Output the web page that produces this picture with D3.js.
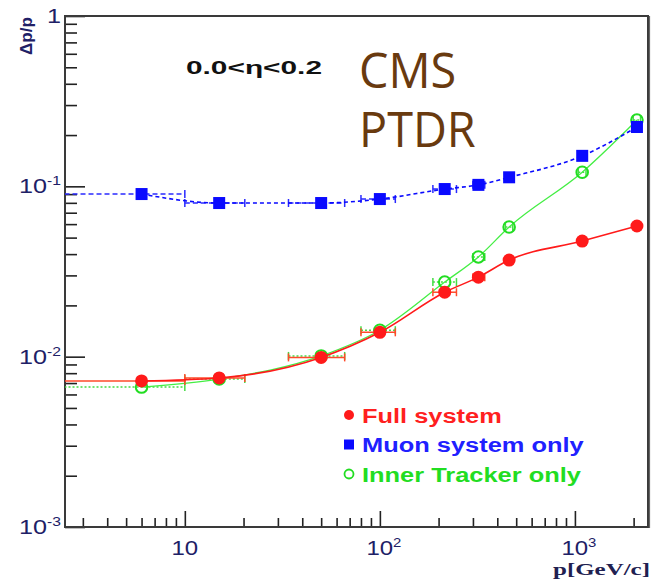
<!DOCTYPE html>
<html>
<head>
<meta charset="utf-8">
<script src="https://cdn.jsdelivr.net/npm/d3@7"></script>
<style>
  body { margin: 0; background: #fff; }
  svg { display: block; }
</style>
</head>
<body>
<div id="chart"></div>
<script>
// momentum bins (GeV/c) and their horizontal error bars
const momentum = [6, 15, 50, 100, 215, 320, 460, 1090, 2080];
const momentumLow = [2, 10, 34, 80, 187, 300, 440, 1040, 1990];
const momentumHigh = [10, 20.3, 66, 120, 247, 345, 480, 1140, 2170];

// resolution dp/p
const fullSystem = [0.0072, 0.0075, 0.0099, 0.0139, 0.0239, 0.0293, 0.0369, 0.0477, 0.0585];
const muonOnly = [0.0901, 0.0798, 0.0798, 0.0842, 0.0964, 0.102, 0.113, 0.151, 0.223];
const trackerOnly = [0.00663, 0.00739, 0.0101, 0.0143, 0.0274, 0.0385, 0.0577, 0.121, 0.245];

const legendLabels = ['Full system', 'Muon system only', 'Inner Tracker only'];

const xTickValues = [10, 100, 1000];
const xTickLabels = ['10', '10^2', '10^3'];
const yTickValues = [0.001, 0.01, 0.1, 1];
const yTickLabels = ['10^-3', '10^-2', '10^-1', '1'];

const W = 658, H = 580;
const frame = { left: 65, top: 16, right: 648, bottom: 527 };
const sx = 1.2; // the original picture is stretched horizontally

const x = d3.scaleLog().domain([2.43, 2370]).range([frame.left, frame.right]);
const y = d3.scaleLog().domain([0.001, 1]).range([frame.bottom, frame.top]);

const svg = d3.select('#chart').append('svg')
  .attr('width', W).attr('height', H);

svg.append('defs').append('clipPath').attr('id', 'plot-clip')
  .append('rect')
  .attr('x', frame.left).attr('y', frame.top)
  .attr('width', frame.right - frame.left)
  .attr('height', frame.bottom - frame.top);

// minor tick values for both axes
const minor = (lo, hi) => {
  const out = [];
  for (let e = lo; e < hi; e++) {
    for (let m = 2; m <= 9; m++) out.push(m * Math.pow(10, e));
  }
  return out;
};
const xMinor = minor(0, 4).filter((v) => v > 2.43 && v < 2370);
const yMinor = minor(-3, 0);

function styleAxis(g) {
  g.select('.domain').remove();
  g.selectAll('.tick line').attr('stroke', '#222').attr('stroke-width', 1.6);
}

// y axis ticks (inside)
svg.append('g').attr('transform', `translate(${frame.left},0)`)
  .call(d3.axisLeft(y).tickValues(yTickValues).tickSize(-20).tickFormat(''))
  .call(styleAxis);
svg.append('g').attr('transform', `translate(${frame.left},0)`)
  .call(d3.axisLeft(y).tickValues(yMinor).tickSize(-12).tickFormat(''))
  .call(styleAxis);

// x axis ticks (inside)
svg.append('g').attr('transform', `translate(0,${frame.bottom})`)
  .call(d3.axisBottom(x).tickValues(xTickValues).tickSize(-16).tickFormat(''))
  .call(styleAxis);
svg.append('g').attr('transform', `translate(0,${frame.bottom})`)
  .call(d3.axisBottom(x).tickValues(xMinor).tickSize(-9).tickFormat(''))
  .call(styleAxis);

// frame
svg.append('rect')
  .attr('x', frame.left).attr('y', frame.top)
  .attr('width', frame.right - frame.left)
  .attr('height', frame.bottom - frame.top)
  .attr('fill', 'none').attr('stroke', '#3a3a3a').attr('stroke-width', 2);
svg.append('line')
  .attr('x1', frame.right + 1.5).attr('x2', frame.right + 1.5)
  .attr('y1', frame.top).attr('y2', frame.bottom + 1)
  .attr('stroke', '#666').attr('stroke-width', 1.2);

// text helper: stretched text anchored at (px, py)
function stretched(px, py, anchor, scale) {
  return svg.append('g')
    .attr('transform', `translate(${px},${py}) scale(${scale},1)`)
    .append('text')
    .attr('text-anchor', anchor);
}

function powerLabel(t, label, size) {
  const [base, exp] = label.split('^');
  t.append('tspan').text(base);
  if (exp) {
    t.append('tspan').attr('dy', -8).attr('font-size', size * 0.62).text(exp);
  }
}

const tickFont = 'Liberation Sans, Arial, sans-serif';
const tickColor = '#202066';

yTickValues.forEach((v, i) => {
  const t = stretched(frame.left - 4, y(v) + 7, 'end', sx)
    .attr('font-family', tickFont).attr('font-size', 21).attr('fill', tickColor);
  powerLabel(t, yTickLabels[i], 21);
});

xTickValues.forEach((v, i) => {
  const t = stretched(x(v) + (i ? 4 : 0), 555, 'middle', sx)
    .attr('font-family', tickFont).attr('font-size', 20).attr('fill', tickColor);
  powerLabel(t, xTickLabels[i], 20);
});

// axis titles
svg.append('text')
  .attr('x', 650).attr('y', 575)
  .attr('text-anchor', 'end')
  .attr('font-family', 'Liberation Serif, Times New Roman, serif')
  .attr('font-weight', 'bold').attr('font-size', 17)
  .attr('fill', '#202050')
  .attr('textLength', 97).attr('lengthAdjust', 'spacingAndGlyphs')
  .text('p[GeV/c]');

svg.append('text')
  .attr('transform', 'translate(32,17) rotate(-90)')
  .attr('text-anchor', 'end')
  .attr('font-family', tickFont)
  .attr('font-weight', 'bold').attr('font-size', 17)
  .attr('fill', tickColor)
  .attr('textLength', 38).attr('lengthAdjust', 'spacingAndGlyphs')
  .text('Δp/p');

// annotations
svg.append('text')
  .attr('x', 186).attr('y', 74)
  .attr('font-family', tickFont)
  .attr('font-weight', 'bold').attr('font-size', 18)
  .attr('fill', '#111')
  .attr('textLength', 136).attr('lengthAdjust', 'spacingAndGlyphs')
  .text('0.0<η<0.2');

const stamp = stretched(359, 88, 'start', 0.955)
  .attr('font-family', 'Open Sans, sans-serif')
  .attr('font-size', 49)
  .attr('fill', '#693a0f');
['CMS', 'PTDR'].forEach((s, i) => {
  stamp.append('tspan').attr('x', 0).attr('dy', i ? 59 : 0).text(s);
});

// series
const series = [
  { values: fullSystem, color: '#ff1a1a', errColor: '#ff4a2a', dash: null, errDash: null, width: 1.6, marker: 'dot' },
  { values: muonOnly, color: '#0a0aff', errColor: '#2a2aff', dash: '4,3', errDash: '5,3', width: 1.6, marker: 'square' },
  { values: trackerOnly, color: '#44ee44', errColor: '#44dd44', dash: null, errDash: '2,2', width: 1.3, marker: 'open' }
];

const plot = svg.append('g').attr('clip-path', 'url(#plot-clip)');

const line = d3.line()
  .x((d) => x(d[0]))
  .y((d) => y(d[1]))
  .curve(d3.curveMonotoneX);

// draw tracker first so red and blue sit on top
[2, 0, 1].forEach((si) => {
  const s = series[si];
  const pts = momentum.map((p, i) => [p, s.values[i], momentumLow[i], momentumHigh[i]]);
  const g = plot.append('g');

  // horizontal error bars with end caps
  pts.forEach((d) => {
    const cy = y(d[1]);
    g.append('line')
      .attr('x1', x(d[2])).attr('x2', x(d[3]))
      .attr('y1', cy).attr('y2', cy)
      .attr('stroke', s.errColor).attr('stroke-width', 1.5)
      .attr('stroke-dasharray', s.errDash);
    [d[2], d[3]].forEach((e) => {
      g.append('line')
        .attr('x1', x(e)).attr('x2', x(e))
        .attr('y1', cy - 4).attr('y2', cy + 4)
        .attr('stroke', s.errColor).attr('stroke-width', 1.5);
    });
  });

  g.append('path')
    .datum(pts)
    .attr('fill', 'none')
    .attr('stroke', s.color)
    .attr('stroke-width', s.width)
    .attr('stroke-dasharray', s.dash)
    .attr('d', line);

  pts.forEach((d) => {
    const cx = x(d[0]), cy = y(d[1]);
    if (s.marker === 'dot') {
      g.append('circle').attr('cx', cx).attr('cy', cy).attr('r', 6.5).attr('fill', s.color);
    } else if (s.marker === 'square') {
      g.append('rect').attr('x', cx - 6).attr('y', cy - 6)
        .attr('width', 12).attr('height', 12).attr('fill', s.color);
    } else {
      g.append('circle').attr('cx', cx).attr('cy', cy).attr('r', 5.8)
        .attr('fill', 'none').attr('stroke', '#22dd22').attr('stroke-width', 2);
    }
  });
});

// legend
const legendColors = ['#ff2020', '#2020ff', '#22dd22'];
legendLabels.forEach((label, i) => {
  const ly = 415 + i * 29.5;
  const s = series[i];
  if (s.marker === 'dot') {
    svg.append('circle').attr('cx', 349).attr('cy', ly).attr('r', 5).attr('fill', s.color);
  } else if (s.marker === 'square') {
    svg.append('rect').attr('x', 344).attr('y', ly - 5).attr('width', 10).attr('height', 10).attr('fill', s.color);
  } else {
    svg.append('circle').attr('cx', 349).attr('cy', ly).attr('r', 4.5)
      .attr('fill', 'none').attr('stroke', '#22dd22').attr('stroke-width', 1.8);
  }
  stretched(362, ly + 7.5, 'start', 1.24)
    .attr('font-family', tickFont).attr('font-weight', 'bold')
    .attr('font-size', 20.5).attr('fill', legendColors[i])
    .text(label);
});
</script>
</body>
</html>
